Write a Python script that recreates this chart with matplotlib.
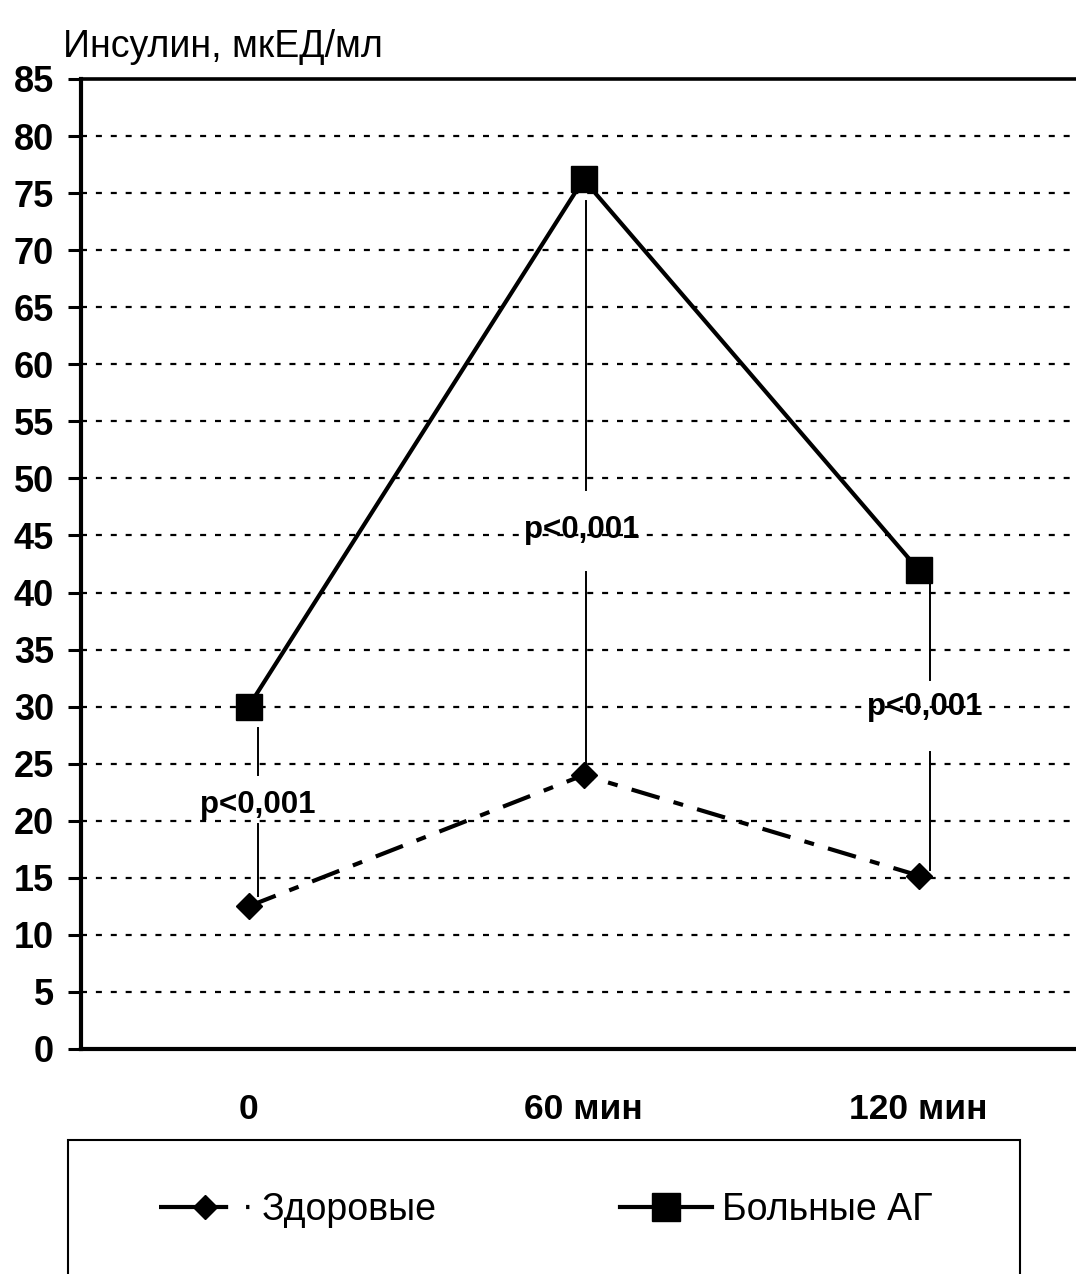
import matplotlib
matplotlib.use("Agg")
import matplotlib.pyplot as plt
from matplotlib.patches import Rectangle
from matplotlib.lines import Line2D

plt.rcParams['font.family'] = ['Liberation Sans', 'DejaVu Sans']

categories = ["0", "60 мин", "120 мин"]
healthy = [12.5, 24.0, 15.2]
patients = [30.0, 76.2, 42.0]
series_names = ["Здоровые", "Больные АГ"]
y_label = "Инсулин, мкЕД/мл"
y_ticks = list(range(0, 90, 5))

p_labels = ["p<0,001", "p<0,001", "p<0,001"]
p_label_y = [21.4, 45.5, 30.0]
p_line_upper = [(28.1, 24.0), (74.3, 49.0), (41.1, 32.3)]
p_line_lower = [(19.7, 13.4), (41.8, 24.5), (26.0, 15.7)]
p_offset = [0.027, 0.006, 0.033]
p_text_offset = [0.027, -0.006, 0.018]

W, H = 1076, 1274
fig = plt.figure(figsize=(W / 100, H / 100), dpi=100)
ax = fig.add_axes([81 / W, (H - 1049) / H, 1005 / W, 970 / H])

x = list(range(len(categories)))

ax.set_ylim(0, 85)
ax.set_xlim(-0.5, 2.5)
ax.set_yticks(y_ticks)
ax.set_yticklabels([str(t) for t in y_ticks], fontsize=26, fontweight='bold')
ax.set_xticks(x)
ax.set_xticklabels(categories, fontsize=25.5, fontweight='bold')
ax.tick_params(axis='y', length=9.5, width=2.2, pad=10, direction='out')
ax.tick_params(axis='x', length=0, pad=32)

for t in y_ticks[1:-1]:
    ax.axhline(t, color='black', lw=1.6, linestyle=(0, (2.7, 4.0)), zorder=1)

for side in ['left', 'bottom']:
    ax.spines[side].set_linewidth(3.0)
ax.spines['top'].set_linewidth(2.6)
ax.spines['right'].set_visible(False)

for i in x:
    xo = i + p_offset[i]
    ax.plot([xo, xo], list(p_line_upper[i]), color='black', lw=1.4, zorder=2)
    ax.plot([xo, xo], list(p_line_lower[i]), color='black', lw=1.4, zorder=2)
    ax.text(i + p_text_offset[i], p_label_y[i], p_labels[i], fontsize=22.5,
            fontweight='bold', ha='center', va='center', zorder=3)

ax.plot(x, healthy, color='black', lw=3, linestyle=(0, (7, 3.5, 2.4, 3.5)),
        marker='D', markersize=13.5, zorder=4, label=series_names[0])
ax.plot(x, patients, color='black', lw=3, linestyle='-',
        marker='s', markersize=18.5, zorder=4, label=series_names[1])

fig.text(63 / W, (H - 47) / H, y_label, fontsize=27, ha='left', va='center')

fig.patches.append(Rectangle((68 / W, -0.05), (1020 - 68) / W, (H - 1140) / H + 0.05,
                             transform=fig.transFigure, fill=False,
                             edgecolor='black', lw=1.5))

h1 = Line2D([], [], color='black', lw=3, linestyle=(0, (16.6, 4.3, 0.8, 20)),
            marker='D', markersize=12.7)
h2 = Line2D([], [], color='black', lw=3, marker='s', markersize=20)
fig.legend([h1, h2], series_names, loc='center',
           bbox_to_anchor=(546 / W, (H - 1210) / H), ncol=2, frameon=False,
           fontsize=27, handlelength=2.45, handletextpad=0.28, columnspacing=4.9)

fig.savefig("out.png", dpi=100)
